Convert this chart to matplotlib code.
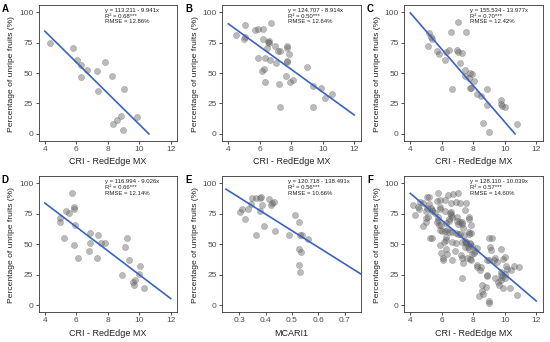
import numpy as np
import matplotlib
matplotlib.use("Agg")
import matplotlib.pyplot as plt

plt.rcParams['font.family'] = ['Liberation Sans', 'DejaVu Sans']

# points (x = index value, y = % unripe fruits)
a_x = [4.32, 5.79, 6.04, 6.30, 6.30, 6.67, 7.30, 7.37, 7.83, 8.27, 8.36, 8.57, 8.82, 9.03, 8.99, 9.87]
a_y = [74.2, 70.3, 61.0, 56.3, 46.4, 52.2, 51.6, 34.9, 59.0, 47.3, 8.0, 11.5, 15.1, 36.8, 3.3, 14.3]

b_x = [4.51, 5.05, 5.03, 5.01, 5.71, 5.87, 6.21, 6.72, 6.23, 6.57, 6.55, 6.59, 6.46, 6.99, 7.14, 7.31,
       7.73, 7.73, 7.83, 5.87, 6.32, 6.67, 7.05, 7.73, 7.73, 6.30, 6.17, 6.36, 7.20, 7.68, 7.94, 8.10,
       8.99, 9.41, 9.92, 10.13, 10.59, 7.26, 9.41]
b_y = [80.8, 89.0, 79.4, 77.5, 85.4, 86.3, 86.3, 91.2, 77.5, 76.4, 75.3, 74.2, 70.6, 72.0, 68.4, 68.4,
       72.5, 70.6, 65.9, 62.1, 62.1, 60.4, 58.2, 60.2, 58.8, 53.3, 51.9, 42.3, 41.2, 47.8, 42.3, 44.5,
       54.9, 39.0, 37.6, 29.9, 32.4, 22.0, 22.5]

c_x = [5.20, 5.31, 5.41, 5.14, 5.69, 5.81, 6.28, 6.22, 6.47, 6.60, 7.00, 6.98, 7.00, 7.27, 7.16, 6.62,
       7.52, 7.46, 7.50, 7.80, 7.95, 7.80, 7.88, 8.05, 8.22, 8.47, 8.85, 8.90, 8.60, 8.98, 9.74, 9.74,
       9.84, 10.03, 10.75, 7.76]
c_y = [83.0, 79.7, 78.0, 72.0, 67.9, 65.7, 67.3, 61.0, 68.7, 84.0, 91.8, 69.2, 67.0, 66.5, 58.2, 37.1,
       84.0, 52.7, 47.8, 50.0, 48.9, 37.6, 37.4, 43.1, 33.0, 31.3, 36.8, 23.9, 9.3, 1.9, 27.5, 24.7,
       23.1, 22.5, 8.2, 46.2]

d_x = [4.99, 4.99, 5.37, 5.54, 5.75, 5.87, 5.87, 5.94, 5.24, 5.87, 6.08, 6.88, 6.88, 6.84, 7.39, 7.56,
       7.81, 7.31, 8.88, 9.07, 9.22, 9.33, 9.58, 9.66, 9.75, 10.08, 10.00, 10.32]
d_y = [71.2, 68.5, 77.3, 75.3, 91.8, 80.3, 79.0, 65.8, 55.3, 49.3, 38.4, 58.9, 50.7, 44.7, 57.3, 51.2,
       51.2, 38.6, 24.7, 47.9, 54.8, 37.5, 19.2, 16.4, 21.1, 32.6, 25.5, 14.5]

e_x = [0.302, 0.310, 0.322, 0.332, 0.344, 0.350, 0.362, 0.378, 0.382, 0.388, 0.378, 0.365, 0.396, 0.415,
       0.420, 0.425, 0.431, 0.435, 0.490, 0.512, 0.528, 0.531, 0.540, 0.525, 0.528, 0.534, 0.532, 0.562]
e_y = [76.2, 78.6, 70.7, 78.9, 83.3, 87.7, 88.0, 88.0, 89.0, 82.5, 77.5, 57.5, 64.9, 87.4,
       81.9, 84.0, 84.7, 60.8, 57.5, 73.7, 68.2, 58.0, 57.5, 33.4, 46.3, 44.1, 27.4, 54.0]

# extra points of panel F (the fifth set on the CRI axis)
f_extra_x = [4.20, 4.60, 4.80, 5.16, 4.57, 4.82, 5.37, 5.94, 6.08, 6.38, 6.88, 7.16, 7.35, 7.56,
             7.62, 8.25, 8.46, 9.15, 9.52, 9.79, 10.00, 10.42, 10.90, 8.57, 7.50, 6.67, 6.46, 5.73]
f_extra_y = [82.0, 85.0, 84.0, 89.0, 78.6, 65.0, 55.0, 42.5, 37.5, 90.4, 85.0, 83.6, 63.0, 52.0,
             38.4, 31.5, 28.8, 45.2, 35.6, 45.8, 39.2, 28.8, 31.5, 16.4, 78.0, 72.6, 60.3, 72.6]

f_x = a_x + b_x + c_x + d_x + f_extra_x
f_y = a_y + b_y + c_y + d_y + f_extra_y

letters = ["A", "B", "C", "D", "E", "F"]
xs = [a_x, b_x, c_x, d_x, e_x, f_x]
ys = [a_y, b_y, c_y, d_y, e_y, f_y]
xlabels = ["CRI - RedEdge MX"] * 4 + ["MCARI1", "CRI - RedEdge MX"]
equations = ["y = 113.211 - 9.941x", "y = 124.707 - 8.914x", "y = 155.534 - 13.977x",
             "y = 116.994 - 9.026x", "y = 120.718 - 138.491x", "y = 128.110 - 10.039x"]
r2 = ["0.68", "0.50", "0.70", "0.66", "0.56", "0.57"]
rmse = ["12.86", "12.64", "12.42", "12.14", "10.66", "14.60"]
# fitted lines as drawn in the picture
intercepts = [135.3, 127.7, 158.9, 123.0, 129.2, 135.9]
slopes = [-12.74, -9.34, -14.9, -9.79, -136.0, -11.03]

fig = plt.figure(figsize=(5.5, 3.42), dpi=100)
W, H = 550.0, 342.0
lefts = [38.5, 222.0, 404.0]
tops = [4.7, 176.0]
aw, ah = 138.5, 136.0

for i in range(6):
    r, c = divmod(i, 3)
    l, t = lefts[c], tops[r]
    ax = fig.add_axes([l / W, 1 - (t + ah) / H, aw / W, ah / H])
    ax.scatter(xs[i], ys[i], s=20, color="#666666", alpha=0.45, edgecolors="#4a4a4a",
               linewidths=0.3, zorder=2)
    if letters[i] == "E":
        lx = np.linspace(0.25, 0.76, 200)
        ax.set_xlim(0.235, 0.76)
        ax.set_xticks([0.3, 0.4, 0.5, 0.6, 0.7])
    else:
        lx = np.linspace(4, 12, 400)
        ax.set_xlim(3.6, 12.4)
        ax.set_xticks([4, 6, 8, 10, 12])
    ly = intercepts[i] + slopes[i] * lx
    keep = ly >= 0
    ax.plot(lx[keep], ly[keep], color="#3a63bf", lw=1.2, zorder=3)
    ax.set_ylim(-5.5, 106)
    ax.set_yticks([0, 25, 50, 75, 100])
    for s in ax.spines.values():
        s.set_color("#333333")
        s.set_linewidth(0.6)
    ax.tick_params(length=2.2, width=0.6, color="#333333", labelsize=6,
                   labelcolor="#4d4d4d", pad=1.5)
    ax.text(0.48, 0.975, equations[i] + "\nR² = " + r2[i] + "***\nRMSE = " + rmse[i] + "%",
            transform=ax.transAxes, ha="left", va="top", fontsize=4.3, linespacing=1.15,
            color="#222222")
    # panel letter, y label and x label
    fig.text((l - 37) / W, 1 - (t + 4) / H, letters[i], fontsize=7, fontweight="bold",
             ha="left", va="center")
    fig.text((l - 26.5) / W, 1 - (t + ah / 2 + 1) / H, "Percentage of unripe fruits (%)",
             rotation=90, fontsize=6.1, ha="center", va="center", color="#222222")
    fig.text((l + aw / 2) / W, 1 - (t + 157) / H, xlabels[i], fontsize=6.5,
             ha="center", va="center", color="#222222")

fig.savefig("out.png", dpi=100)
